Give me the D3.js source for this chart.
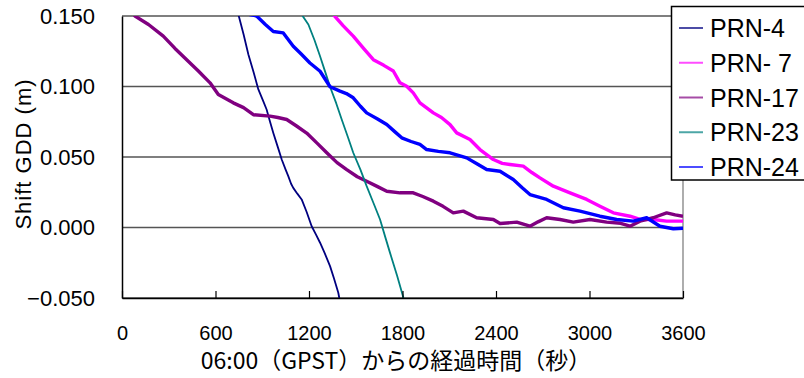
<!DOCTYPE html>
<html>
<head>
<meta charset="utf-8">
<script src="https://cdnjs.cloudflare.com/ajax/libs/d3/7.8.5/d3.min.js"></script>
<style>
body { margin: 0; background: #fff; }
</style>
</head>
<body>
<div id="chart"></div>
<script>
// series: [seconds since 06:00, shift GDD (m)]
var prn4 = [[720,0.165],[747,0.151],[780,0.137],[811,0.1227],[845,0.110],[875,0.0979],[905,0.090],[928,0.0837],[950,0.075],[971,0.0671],[1000,0.057],[1025,0.0482],[1050,0.041],[1067,0.0364],[1085,0.031],[1099,0.0281],[1125,0.024],[1153,0.0199],[1185,0.011],[1217,0.0009],[1245,-0.005],[1271,-0.0108],[1300,-0.018],[1335,-0.0274],[1360,-0.036],[1388,-0.0463],[1398,-0.052]];
var prn7 = [[1330,0.160],[1356,0.151],[1420,0.143],[1484,0.1357],[1550,0.127],[1613,0.119],[1680,0.115],[1741,0.111],[1784,0.1026],[1827,0.1002],[1869,0.0955],[1912,0.0884],[1998,0.0813],[2050,0.078],[2105,0.073],[2148,0.0671],[2233,0.0624],[2297,0.0553],[2383,0.0482],[2440,0.0455],[2490,0.0447],[2575,0.0435],[2630,0.039],[2682,0.0352],[2768,0.0293],[2875,0.0246],[2982,0.0199],[3067,0.0151],[3153,0.0104],[3260,0.008],[3324,0.0057],[3409,0.0057],[3495,0.0045],[3600,0.0045]];
var prn17 = [[0,0.162],[83,0.150],[170,0.144],[265,0.1357],[340,0.127],[415,0.119],[490,0.111],[565,0.1026],[618,0.0943],[714,0.0884],[780,0.085],[843,0.080],[950,0.079],[1000,0.078],[1057,0.0766],[1120,0.072],[1185,0.067],[1250,0.060],[1314,0.053],[1380,0.046],[1442,0.041],[1510,0.036],[1570,0.0328],[1640,0.029],[1699,0.0257],[1784,0.0246],[1869,0.0246],[1930,0.022],[1998,0.0187],[2060,0.015],[2126,0.0104],[2190,0.0116],[2276,0.0069],[2383,0.0057],[2426,0.0028],[2533,0.0038],[2618,0.0009],[2670,0.004],[2725,0.0069],[2811,0.0057],[2896,0.0038],[3003,0.0057],[3110,0.0038],[3200,0.003],[3260,0.0009],[3324,0.0045],[3409,0.0069],[3495,0.0104],[3550,0.009],[3600,0.008]];
var prn23 = [[1140,0.158],[1153,0.151],[1196,0.144],[1235,0.133],[1271,0.1215],[1305,0.110],[1335,0.0998],[1375,0.088],[1410,0.0766],[1450,0.064],[1484,0.053],[1530,0.041],[1570,0.0293],[1615,0.017],[1656,0.0057],[1690,-0.007],[1720,-0.018],[1765,-0.034],[1805,-0.0494],[1808,-0.052]];
var prn24 = [[800,0.156],[821,0.151],[864,0.150],[920,0.144],[971,0.139],[1035,0.138],[1099,0.1286],[1150,0.123],[1206,0.1167],[1271,0.1108],[1335,0.0998],[1399,0.0967],[1440,0.095],[1484,0.092],[1530,0.086],[1570,0.0813],[1640,0.077],[1699,0.073],[1750,0.068],[1795,0.0636],[1855,0.061],[1912,0.0589],[1955,0.0553],[2030,0.054],[2105,0.053],[2212,0.0494],[2280,0.045],[2340,0.0411],[2426,0.0399],[2511,0.034],[2570,0.028],[2618,0.0234],[2725,0.0199],[2832,0.014],[2939,0.0116],[3067,0.008],[3174,0.0057],[3281,0.0045],[3367,0.0069],[3452,0.0009],[3538,-0.0009],[3600,-0.0005]];

var seriesNames = ["PRN-4", "PRN- 7", "PRN-17", "PRN-23", "PRN-24"];
var seriesData = [prn4, prn7, prn17, prn23, prn24];
var seriesColors = ["#000080", "#ff00ff", "#800080", "#008080", "#0000ff"];
var seriesWidths = [1.8, 3.4, 3.4, 1.8, 3.4];

var xTicks = [0, 600, 1200, 1800, 2400, 3000, 3600];
var yTicks = [-0.05, 0, 0.05, 0.10, 0.15];

var width = 804, height = 378;
var margin = {top: 16, right: 121, bottom: 80, left: 122};

var svg = d3.select("#chart").append("svg")
    .attr("width", width)
    .attr("height", height)
    .style("background", "#fff");

var xScale = d3.scaleLinear().domain([0, 3600]).range([margin.left, width - margin.right]);
var yScale = d3.scaleLinear().domain([-0.05, 0.15]).range([height - margin.bottom, margin.top]);

// gridlines
svg.append("g").selectAll("line")
    .data(yTicks)
    .enter().append("line")
    .attr("x1", xScale(0))
    .attr("x2", xScale(3600))
    .attr("y1", function(d) { return yScale(d); })
    .attr("y2", function(d) { return yScale(d); })
    .attr("stroke", "#555")
    .attr("stroke-width", 1.4);

// right border of plot area
svg.append("line")
    .attr("x1", xScale(3600)).attr("x2", xScale(3600))
    .attr("y1", yScale(0.15)).attr("y2", yScale(-0.05))
    .attr("stroke", "#777")
    .attr("stroke-width", 1.2);

svg.append("clipPath").attr("id", "plotclip")
    .append("rect")
    .attr("x", xScale(0))
    .attr("y", yScale(0.15))
    .attr("width", xScale(3600) - xScale(0))
    .attr("height", yScale(-0.05) - yScale(0.15));

var line = d3.line()
    .x(function(d) { return xScale(d[0]); })
    .y(function(d) { return yScale(d[1]); });

svg.append("g").attr("clip-path", "url(#plotclip)")
    .selectAll("path")
    .data(seriesData)
    .enter().append("path")
    .attr("d", line)
    .attr("fill", "none")
    .attr("stroke", function(d, i) { return seriesColors[i]; })
    .attr("stroke-width", function(d, i) { return seriesWidths[i]; })
    .attr("stroke-linejoin", "round");

// x axis with inner ticks
var xAxis = d3.axisBottom(xScale)
    .tickValues(xTicks)
    .tickSizeInner(-7)
    .tickSizeOuter(0)
    .tickPadding(28)
    .tickFormat(d3.format("d"));

var gx = svg.append("g")
    .attr("transform", "translate(0," + yScale(-0.05) + ")")
    .call(xAxis);
gx.select(".domain").attr("stroke", "#000").attr("stroke-width", 1.5);
gx.selectAll(".tick line").attr("stroke", "#000").attr("stroke-width", 1.2);
gx.selectAll(".tick text")
    .attr("fill", "#000")
    .style("font-family", "'Liberation Sans', Arial, sans-serif")
    .style("font-size", "20px");

// y axis
var yAxis = d3.axisLeft(yScale)
    .tickValues(yTicks)
    .tickSize(0)
    .tickPadding(27)
    .tickFormat(d3.format(".3f"));

var gy = svg.append("g")
    .attr("transform", "translate(" + xScale(0) + ",0)")
    .call(yAxis);
gy.select(".domain").attr("stroke", "#000").attr("stroke-width", 1.5);
gy.selectAll(".tick text")
    .attr("fill", "#000")
    .style("font-family", "'Liberation Sans', Arial, sans-serif")
    .style("font-size", "22px");

// axis titles
svg.append("text")
    .attr("x", 396)
    .attr("y", 369)
    .attr("text-anchor", "middle")
    .style("font-family", "'Noto Sans CJK JP', sans-serif")
    .style("font-size", "23px")
    .text("06:00（GPST）からの経過時間（秒）");

svg.append("text")
    .attr("transform", "translate(31,154) rotate(-90)")
    .attr("text-anchor", "middle")
    .style("font-family", "'Liberation Sans', Arial, sans-serif")
    .style("font-size", "22px")
    .style("letter-spacing", "1px")
    .text("Shift GDD (m)");

// legend
var legend = svg.append("g").attr("class", "legend");
legend.append("rect")
    .attr("x", 671.5)
    .attr("y", 6.5)
    .attr("width", 140)
    .attr("height", 173.5)
    .attr("fill", "#fff")
    .attr("stroke", "#000")
    .attr("stroke-width", 1.5);

var items = legend.selectAll(".item")
    .data(seriesNames)
    .enter().append("g")
    .attr("class", "item")
    .attr("transform", function(d, i) { return "translate(0," + (28 + i * 34.75) + ")"; });

items.append("line")
    .attr("x1", 679).attr("x2", 703)
    .attr("y1", 0).attr("y2", 0)
    .attr("stroke", function(d, i) { return seriesColors[i]; })
    .attr("stroke-opacity", 0.7)
    .attr("stroke-width", 2);

items.append("text")
    .attr("x", 710)
    .attr("y", 9)
    .style("font-family", "'Liberation Sans', Arial, sans-serif")
    .style("font-size", "25px")
    .style("white-space", "pre")
    .text(function(d) { return d; });
</script>
</body>
</html>
